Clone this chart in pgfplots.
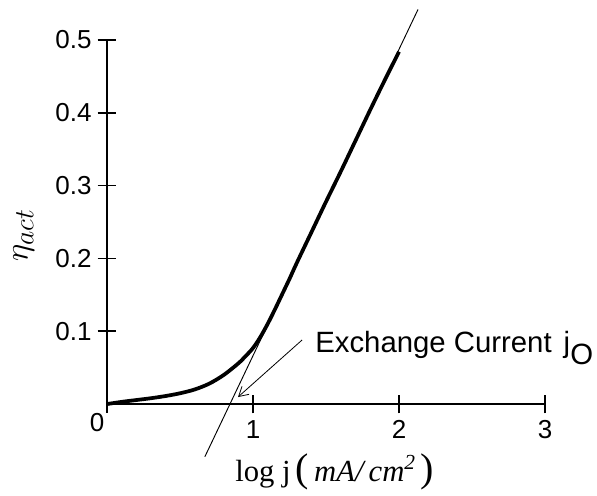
\documentclass[border=0pt]{standalone}
\usepackage{fontspec}
\setmainfont{Liberation Sans}
\newfontfamily\timesfont{Liberation Serif}
\usepackage{pgfplots}
\pgfplotsset{compat=1.18}
\usetikzlibrary{arrows.meta}
\begin{document}
\begin{tikzpicture}
\begin{axis}[
 x=109.5pt, y=546pt,
 xmin=0, xmax=3, ymin=-0.012, ymax=0.5,
 axis lines=middle,
 axis line style={-, line width=1.2pt},
 xtick={1,2,3}, ytick={0.1,0.2,0.3,0.4,0.5},
 xticklabels={1,2,3},
 yticklabels={0.1,0.2,0.3,0.4,0.5},
 tick align=center, major tick length=14pt,
 tick style={line width=1.2pt, black},
 ticklabel style={font=\fontsize{19.5}{21}\selectfont},
 xticklabel style={yshift=-2pt},
 yticklabel style={xshift=-1pt},
 clip=false,
]
\addplot[black, line width=2.8pt, smooth, tension=0.5] coordinates {
(0,0) (0.1,0.003) (0.2,0.0055) (0.3,0.008) (0.4,0.011) (0.5,0.0148)
(0.6,0.020) (0.7,0.028) (0.8,0.040) (0.9,0.056) (0.95,0.066)
(1.0,0.077) (1.05,0.092) (1.1,0.110) (1.15,0.130) (1.2,0.151)
(1.25,0.172) (1.3,0.194) (1.4,0.236) (1.5,0.278) (1.6,0.319)
(1.7,0.361) (1.8,0.403) (1.9,0.444) (2.0,0.484)
};
\addplot[black, line width=0.7pt] coordinates {(0.67,-0.0724) (2.13,0.542)};
\draw[line width=0.6pt, -{Straight Barb[length=7pt,width=8pt]}] (axis cs:1.336,0.088) -- (axis cs:0.897,0.0096);
\node[anchor=base west, font=\fontsize{22}{24}\selectfont, inner sep=0pt] at (axis cs:1.425,0.0714)
  {Exchange Current\hspace{9pt}j\raisebox{-9pt}{O}};
\node[font=\fontsize{19.5}{21}\selectfont, inner sep=0pt] at (axis cs:-0.068,-0.026) {0};
\node[anchor=base, font=\timesfont\fontsize{23}{25}\selectfont, inner sep=0pt] at (axis cs:1.56,-0.107)
  {log j\,{\fontsize{30}{30}\selectfont(}\,\textit{mA/\,cm\textsuperscript{2}}\,{\fontsize{30}{30}\selectfont)}};
\node[rotate=90, font=\fontsize{28}{30}\selectfont, inner sep=0pt] at (axis cs:-0.57,0.232) {$\eta_{act}$};
\coordinate (bl) at (axis cs:-0.733,-0.125);
\coordinate (tr) at (axis cs:3.356,0.555);
\end{axis}
\pgfresetboundingbox
\path[use as bounding box] (bl) rectangle (tr);
\end{tikzpicture}
\end{document}
